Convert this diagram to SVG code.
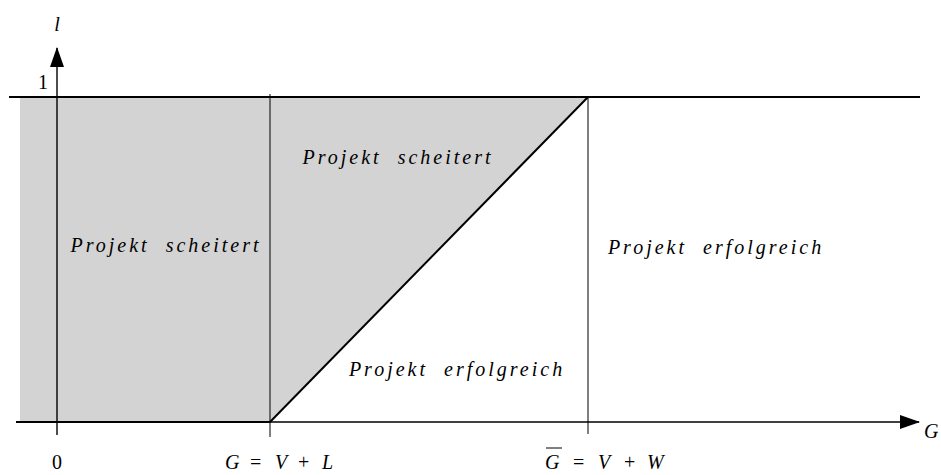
<svg xmlns="http://www.w3.org/2000/svg" width="941" height="475" viewBox="0 0 941 475">
<style>
.t{font-family:"Liberation Serif","DejaVu Serif",serif;font-size:20px;font-style:italic;fill:#000}
.lab{letter-spacing:3px;word-spacing:8px}
.m{font-family:"Liberation Serif","DejaVu Serif",serif;font-size:20px;fill:#000}
.i{font-style:italic}
.ln{stroke:#000;fill:none}
</style>
<defs>
<marker id="ah" markerWidth="20" markerHeight="14" refX="19" refY="7" orient="auto" markerUnits="userSpaceOnUse">
<path d="M0,0 L20,7 L0,14 Z" fill="#000"/>
</marker>
</defs>
<g id="regions">
<rect x="20" y="97" width="250" height="325" fill="#d3d3d3"/>
<polygon points="270,97 588,97 270,422" fill="#d3d3d3"/>
</g>
<g id="connectors">
<line class="ln" x1="9" y1="97" x2="920" y2="97" stroke-width="2"/>
<line class="ln" x1="16" y1="422" x2="270" y2="422" stroke-width="2.2"/>
<line class="ln" x1="270" y1="422" x2="919" y2="422" stroke-width="1.4" marker-end="url(#ah)"/>
<line class="ln" x1="57" y1="435" x2="57" y2="48" stroke-width="1.4" marker-end="url(#ah)"/>
<line class="ln" x1="270" y1="94" x2="270" y2="437" stroke-width="1"/>
<line class="ln" x1="588" y1="97" x2="588" y2="434" stroke-width="1"/>
<line class="ln" x1="270" y1="422" x2="588" y2="97" stroke-width="2"/>
</g>
<g id="labels">
<text class="m i" x="57" y="31" text-anchor="middle">l</text>
<text class="m" x="43" y="89" text-anchor="middle">1</text>
<text class="m" x="57" y="469" text-anchor="middle">0</text>
<text class="m" y="469"><tspan class="i" x="225">G</tspan><tspan x="250">=</tspan><tspan class="i" x="275">V</tspan><tspan x="298">+</tspan><tspan class="i" x="322">L</tspan></text>
<text class="m" y="469"><tspan class="i" x="545">G</tspan><tspan x="573">=</tspan><tspan class="i" x="598">V</tspan><tspan x="624">+</tspan><tspan class="i" x="647">W</tspan></text>
<line class="ln" x1="546" y1="448" x2="562" y2="448" stroke-width="1"/>
<text class="m i" x="924" y="438">G</text>
</g>
<g id="n1"><text class="t lab" x="166" y="252" text-anchor="middle">Projekt scheitert</text></g>
<g id="n2"><text class="t lab" x="398" y="164" text-anchor="middle">Projekt scheitert</text></g>
<g id="n3"><text class="t lab" x="457" y="376" text-anchor="middle">Projekt erfolgreich</text></g>
<g id="n4"><text class="t lab" x="716" y="254" text-anchor="middle">Projekt erfolgreich</text></g>
</svg>
